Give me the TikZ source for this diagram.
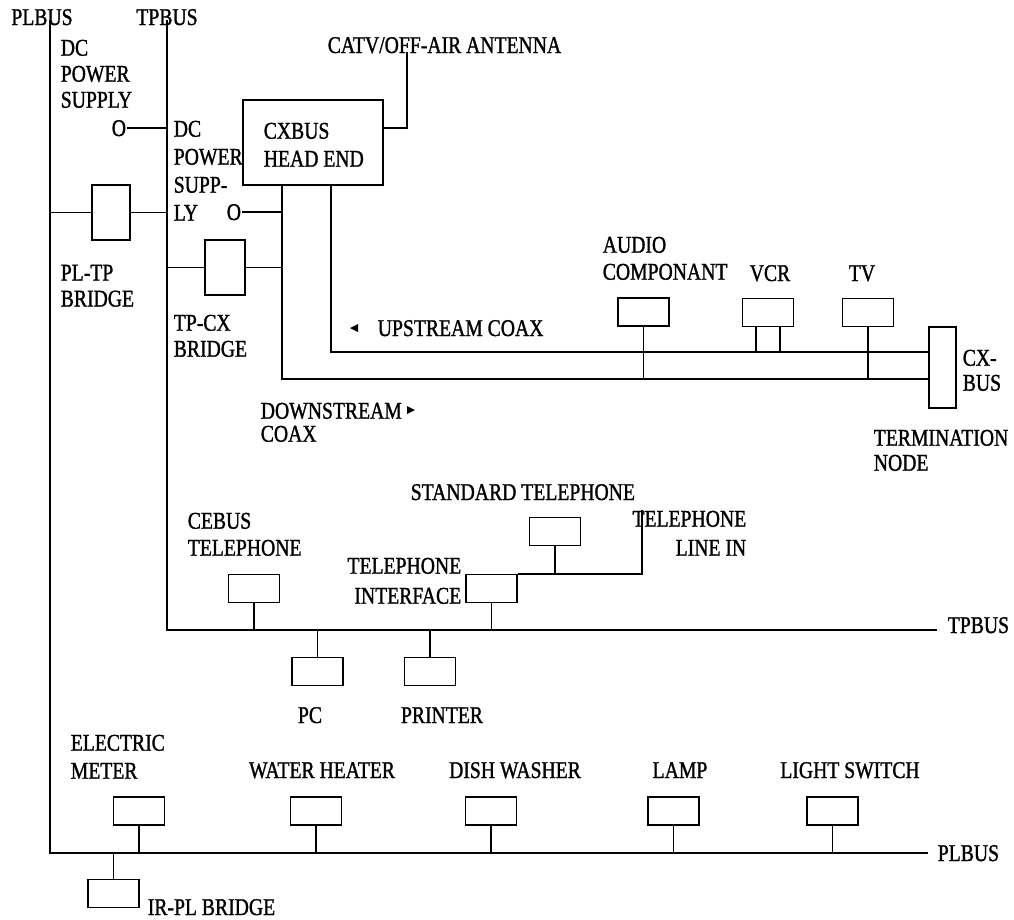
\documentclass[tikz,border=0pt]{standalone}
\usepackage{fontspec}
\newfontfamily\lbfont[FakeStretch=0.82,FakeBold=1.2]{Liberation Serif}
\begin{document}
\begin{tikzpicture}[x=1pt,y=-1pt,line width=1.6pt,
  lbl/.style={inner sep=0pt,font=\lbfont\fontsize{24}{27}\selectfont,align=left},
  dev/.style={draw,line width=1.6pt,inner sep=0pt,minimum width=51pt,minimum height=28pt},
  tri/.style={fill=black,draw=none}]
\useasboundingbox (0,0) rectangle (1014,919);

% ---------- bus coordinates ----------
\coordinate (plTop) at (50,20);
\coordinate (plCorner) at (50,853);
\coordinate (plEnd) at (928,853);
\coordinate (tpTop) at (167,20);
\coordinate (tpCorner) at (167,630);
\coordinate (tpEnd) at (937,630);
\coordinate (dsTop) at (282,185);
\coordinate (usTop) at (331,185);
\coordinate (ant) at (407,52);
\coordinate (tli) at (642,510);

% ---------- boxes ----------
\node[dev,minimum width=140pt,minimum height=85pt] (he) at (313,142.5) {};
\node[dev,minimum width=38pt,minimum height=55pt] (pltp) at (111,212.5) {};
\node[dev,minimum width=40pt,minimum height=55pt] (tpcx) at (225,267.5) {};
\node[dev,minimum width=27pt,minimum height=81pt] (term) at (942.5,367.5) {};
\node[dev] (audio) at (643.5,312) {};
\node[dev] (vcr) at (768,312.5) {};
\node[dev] (tv) at (868,312.5) {};
\node[dev] (cebus) at (254,588.5) {};
\node[dev] (iface) at (491.5,588.5) {};
\node[dev] (stdtel) at (555,531.5) {};
\node[dev] (pc) at (317.5,671.5) {};
\node[dev] (printer) at (430,671.5) {};
\node[dev] (meter) at (139,811) {};
\node[dev] (heater) at (316,811) {};
\node[dev] (dish) at (491,811) {};
\node[dev] (lamp) at (673.5,811) {};
\node[dev] (switch) at (832.5,811) {};
\node[dev] (irpl) at (113.5,893.5) {};

% coax ends at termination node
\coordinate (usEnd) at (term.west |- 0,352);
\coordinate (dsEnd) at (term.west |- 0,379);

% ---------- labels ----------
\node[lbl,anchor=base] (lplbus) at (42,25) {PLBUS};
\node[lbl,anchor=base] (ltpbus) at (167,25) {TPBUS};
\node[lbl,anchor=north west,font=\lbfont\fontsize{24}{26}\selectfont] (ldc1) at (60,39) {DC\\POWER\\SUPPLY};
\node[lbl,anchor=base west] (o1) at (111,136) {O};
\node[lbl,anchor=north west,font=\lbfont\fontsize{24}{28}\selectfont] (ldc2) at (173,120) {DC\\POWER\\SUPP-\\LY};
\node[lbl,anchor=base west] (o2) at (226,220) {O};
\node[lbl,anchor=north west,font=\lbfont\fontsize{24}{28}\selectfont] (lhe) at (263,122) {CXBUS\\HEAD END};
\node[lbl,anchor=base west] (lant) at (327,53) {CATV/OFF-AIR ANTENNA};
\node[lbl,anchor=north west,font=\lbfont\fontsize{24}{26}\selectfont] (lpltp) at (60,264) {PL-TP\\BRIDGE};
\node[lbl,anchor=north west,font=\lbfont\fontsize{24}{26}\selectfont] (ltpcx) at (173,314) {TP-CX\\BRIDGE};
\node[lbl,anchor=base west] (lus) at (377,336) {UPSTREAM COAX};
\node[lbl,anchor=north west,font=\lbfont\fontsize{24}{23}\selectfont] (lds) at (260,402) {DOWNSTREAM\\COAX};
\node[lbl,anchor=north west] (laudio) at (602,236) {AUDIO\\COMPONANT};
\node[lbl,anchor=base] (lvcr) at (770,281) {VCR};
\node[lbl,anchor=base] (ltv) at (862,281) {TV};
\node[lbl,anchor=north west,font=\lbfont\fontsize{24}{25}\selectfont] (lcx) at (962,349) {CX-\\BUS};
\node[lbl,anchor=north west,font=\lbfont\fontsize{24}{25}\selectfont] (lterm) at (873,429) {TERMINATION\\NODE};
\node[lbl,anchor=base west] (lstd) at (410,500) {STANDARD TELEPHONE};
\node[lbl,anchor=north east,align=right,font=\lbfont\fontsize{24}{29}\selectfont] (lline) at (747,510) {TELEPHONE\\LINE IN};
\node[lbl,anchor=north west] (lcebus) at (187,512) {CEBUS\\TELEPHONE};
\node[lbl,anchor=north east,align=right,font=\lbfont\fontsize{24}{30}\selectfont] (liface) at (462,557) {TELEPHONE\\INTERFACE};
\node[lbl,anchor=base] (lpc) at (310,723) {PC};
\node[lbl,anchor=base] (lprinter) at (442,723) {PRINTER};
\node[lbl,anchor=base west] (ltpbus2) at (947,633) {TPBUS};
\node[lbl,anchor=north west,font=\lbfont\fontsize{24}{28}\selectfont] (lmeter) at (70,734) {ELECTRIC\\METER};
\node[lbl,anchor=base] (lheater) at (322,778) {WATER HEATER};
\node[lbl,anchor=base] (ldish) at (515,778) {DISH WASHER};
\node[lbl,anchor=base] (llamp) at (680,778) {LAMP};
\node[lbl,anchor=base] (lswitch) at (850,778) {LIGHT SWITCH};
\node[lbl,anchor=base west] (lplbus2) at (937,861) {PLBUS};
\node[lbl,anchor=base west] (lirpl) at (147,915) {IR-PL BRIDGE};

% direction triangles
\path[tri] (350,328) -- (358,324) -- (358,332) -- cycle;
\path[tri] (415,410) -- (407,406) -- (407,414) -- cycle;

% ---------- buses ----------
\draw (plTop) -- (plCorner) -- (plEnd);
\draw (tpTop) -- (tpCorner) -- (tpEnd);
\draw (dsTop) -- (dsTop |- dsEnd) -- (dsEnd);
\draw (usTop) -- (usTop |- usEnd) -- (usEnd);

% ---------- connections ----------
\draw (o1.east) -- (o1.east -| tpTop);
\draw (o2.east) -- (o2.east -| dsTop);
\draw (pltp.west) -- (pltp.west -| plTop);
\draw (pltp.east) -- (pltp.east -| tpTop);
\draw (tpcx.west) -- (tpcx.west -| tpTop);
\draw (tpcx.east) -- (tpcx.east -| dsTop);
\draw ([yshift=14.5pt]he.east) -- ([yshift=14.5pt]he.east -| ant) -- (ant);

\draw (audio.south) -- (audio.south |- dsEnd);
\draw ([xshift=-12pt]vcr.south) -- ([xshift=-12pt]vcr.south |- usEnd);
\draw ([xshift=12pt]vcr.south) -- ([xshift=12pt]vcr.south |- usEnd);
\draw (tv.south) -- (tv.south |- dsEnd);

\draw (cebus.south) -- (cebus.south |- tpEnd);
\draw (iface.south) -- (iface.south |- tpEnd);
\draw (pc.north) -- (pc.north |- tpEnd);
\draw (printer.north) -- (printer.north |- tpEnd);
\draw (iface.north east) -- (iface.north east -| tli) -- (tli);
\draw (stdtel.south) -- (stdtel.south |- iface.north);

\draw (meter.south) -- (meter.south |- plEnd);
\draw (heater.south) -- (heater.south |- plEnd);
\draw (dish.south) -- (dish.south |- plEnd);
\draw (lamp.south) -- (lamp.south |- plEnd);
\draw (switch.south) -- (switch.south |- plEnd);
\draw (irpl.north) -- (irpl.north |- plEnd);
\end{tikzpicture}
\end{document}
